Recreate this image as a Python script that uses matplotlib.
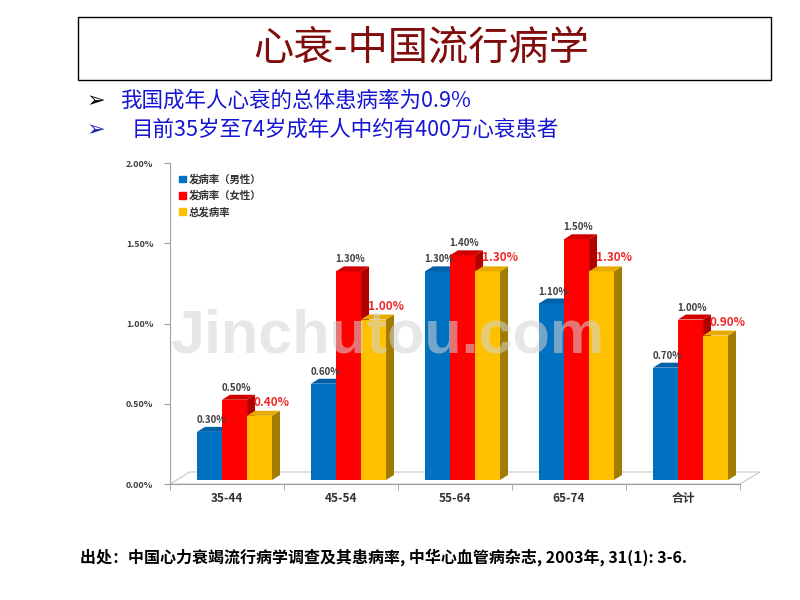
import numpy as np
import matplotlib
matplotlib.use('Agg')
import matplotlib.pyplot as plt
from matplotlib.patches import Polygon, Rectangle

plt.rcParams['font.family'] = ['Noto Sans CJK SC', 'DejaVu Sans']

# data (incidence, %)
Groups = ['35-44', '45-54', '55-64', '65-74', '合计']
Male = [0.30, 0.60, 1.30, 1.10, 0.70]
Female = [0.50, 1.30, 1.40, 1.50, 1.00]
Total = [0.40, 1.00, 1.30, 1.30, 0.90]
SeriesNames = ['发病率（男性）', '发病率（女性）', '总发病率']
YTicks = [0.0, 0.5, 1.0, 1.5, 2.0]

# style for the fake 3d bars
W = 0.22
Offsets = [-0.153, 0.066, 0.285]
Front = ['#0070C0', '#FF0000', '#FFC000']
Side = ['#004E88', '#B00000', '#A07C00']
Top = ['#0060A8', '#D00000', '#E8AA00']
DX, DY = 0.07, 0.031
BASE = 0.025
FDX, FDY = 0.175, 0.075

fig = plt.figure(figsize=(8, 6), dpi=100)
fig.patch.set_facecolor('white')

ax = fig.add_axes([0.2125, 0.1933, 0.7125, 0.535])
ax.set_xlim(-0.5, 4.5)
ax.set_ylim(0, 2.0)

# floor
floor = Polygon([(-0.5, 0), (4.5, 0), (4.5 + FDX, FDY), (-0.5 + FDX, FDY)],
                closed=True, facecolor='white', edgecolor='#c8c8c8', lw=0.8,
                clip_on=False, zorder=1)
ax.add_patch(floor)

Series = [Male, Female, Total]
for s in range(3):
    vals = Series[s]
    x = np.arange(len(Groups)) + Offsets[s]
    z = 3 + s
    ax.bar(x, vals, width=W, bottom=BASE, color=Front[s], zorder=z, clip_on=False)
    for xi, v in zip(x, vals):
        x0 = xi - W / 2
        x1 = xi + W / 2
        top = BASE + v
        ax.add_patch(Polygon([(x1, BASE), (x1 + DX, BASE + DY), (x1 + DX, top + DY), (x1, top)],
                             closed=True, facecolor=Side[s], edgecolor='none', zorder=z, clip_on=False))
        ax.add_patch(Polygon([(x0, top), (x0 + DX, top + DY), (x1 + DX, top + DY), (x1, top)],
                             closed=True, facecolor=Top[s], edgecolor='none', zorder=z, clip_on=False))
        if s < 2:
            ax.text(xi + DX / 2 - 0.02, top + DY + 0.012, '%.2f%%' % v, ha='center', va='bottom',
                    fontsize=7, fontweight='bold', color='#404040', zorder=10)
        else:
            ax.text(xi - 0.05, top + DY + 0.012, '%.2f%%' % v, ha='left', va='bottom',
                    fontsize=8.5, fontweight='bold', color='#F02828', zorder=10)

# axes look
for sp in ['top', 'right']:
    ax.spines[sp].set_visible(False)
ax.spines['left'].set_color('#a0a0a0')
ax.spines['bottom'].set_color('#a0a0a0')
ax.set_yticks(YTicks)
ax.set_yticklabels(['%.2f%%' % v for v in YTicks], fontsize=6.5, fontweight='bold', color='#404040')
ax.tick_params(axis='y', length=4, color='#a0a0a0', pad=8)
ax.set_xticks(range(len(Groups)))
ax.set_xticklabels(Groups, fontsize=8.5, fontweight='bold', color='#333333')
ax.set_xticks(np.arange(-0.5, len(Groups), 1), minor=True)
ax.tick_params(axis='x', which='major', length=0, pad=6)
ax.tick_params(axis='x', which='minor', length=4, color='#a0a0a0')

handles = [Rectangle((0, 0), 1, 1, color=c) for c in Front]
leg = ax.legend(handles, SeriesNames, loc='upper left', bbox_to_anchor=(0.0, 0.995),
                frameon=False, prop={'size': 7.5, 'weight': 'bold'}, handlelength=0.6,
                handleheight=0.6, handletextpad=0.3, labelspacing=0.55)
for t in leg.get_texts():
    t.set_color('#333333')

# title box
fig.add_artist(Rectangle((78 / 800, 1 - 80 / 600), (771 - 78) / 800, 63 / 600,
                         transform=fig.transFigure, fill=False, ec='black', lw=1))
fig.text(421 / 800, 1 - 48 / 600, '心衰-中国流行病学', fontsize=29, color='#800c0c',
         ha='center', va='center')

# bullets
fig.text(87 / 800, 1 - 101 / 600, '➢', family=['DejaVu Sans'], fontsize=16, color='black', va='center')
fig.text(120 / 800, 1 - 101 / 600, '我国成年人心衰的总体患病率为0.9%', fontsize=15.5,
         color='#1414D2', va='center')
fig.text(87 / 800, 1 - 130 / 600, '➢', family=['DejaVu Sans'], fontsize=16, color='#2020B0', va='center')
fig.text(132 / 800, 1 - 130 / 600, '目前35岁至74岁成年人中约有400万心衰患者', fontsize=15.5,
         color='#1414D2', va='center')

# watermark
fig.text(387 / 800, 1 - 337 / 600, 'Jinchutou.com', fontsize=44, fontweight='bold',
         family=['Liberation Sans'], color='#d4d4d4', alpha=0.55, ha='center', va='center', zorder=20)

# source
fig.text(80 / 800, 1 - 557 / 600, '出处：中国心力衰竭流行病学调查及其患病率, 中华心血管病杂志, 2003年, 31(1): 3-6.',
         fontsize=11.5, fontweight='bold', color='black', va='center')

fig.savefig('out.png', dpi=100)
